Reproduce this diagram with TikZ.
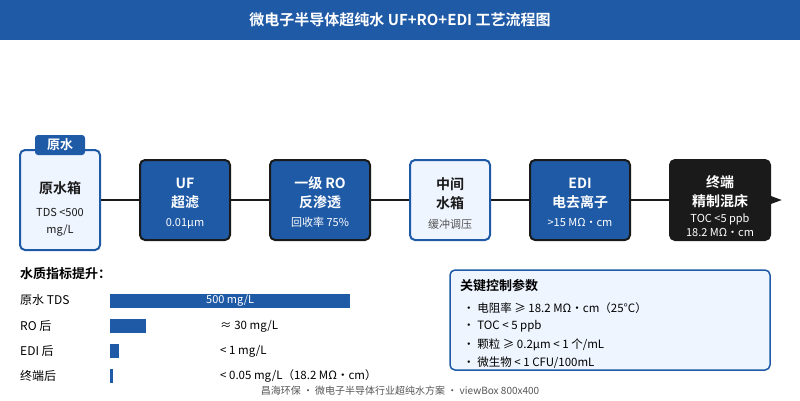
\documentclass[tikz,border=0pt]{standalone}
\usepackage{fontspec}
\setmainfont{Noto Sans CJK SC}[BoldFont={Noto Sans CJK SC Bold}]
\usetikzlibrary{arrows.meta}

\definecolor{mainblue}{HTML}{1F5AA6}
\definecolor{paleblue}{HTML}{EEF5FE}
\definecolor{inkdark}{HTML}{1A1A1A}
\definecolor{notegray}{HTML}{555555}

\begin{document}
\begin{tikzpicture}[x=1pt,y=-1pt]

    \useasboundingbox (0,0) rectangle (800,400);

    \tikzset{
        procbox/.style={draw=inkdark, fill=mainblue, line width=2pt, rounded corners=5pt,
            minimum width=90pt, minimum height=80pt, inner sep=0pt},
        tankbox/.style={procbox, draw=mainblue, fill=paleblue},
        boxtext/.style={align=center, inner sep=0pt, text=white,
            font=\fontsize{14}{19}\selectfont\bfseries},
        flow/.style={draw=inkdark, line width=2pt},
        rowlbl/.style={anchor=west, inner sep=0pt, font=\fontsize{12}{14}\selectfont},
        bar/.style={anchor=west, fill=mainblue, inner sep=0pt, minimum height=14pt},
        item/.style={anchor=west, inner sep=0pt, font=\fontsize{11.5}{14}\selectfont}
    }

    % title bar
    \fill[mainblue] (0,0) rectangle (800,40);
    \node[text=white, font=\fontsize{15}{18}\selectfont\bfseries] (title) at (400,20)
        {微电子半导体超纯水 UF+RO+EDI 工艺流程图};

    % process chain
    \node[tankbox, minimum width=80pt, minimum height=100pt] (raw) at (60,200) {};
    \node[boxtext, text=inkdark] (rawtxt) at ([yshift=-9pt]raw.center)
        {原水箱\\[4pt]{\fontsize{11}{17}\selectfont\mdseries TDS <500}\\[-2pt]{\fontsize{11}{17}\selectfont\mdseries mg/L}};
    \node[fill=mainblue, rounded corners=3pt, minimum width=50pt, minimum height=20pt, inner sep=0pt,
        text=white, font=\fontsize{13}{15}\selectfont\bfseries] (rawtag) at (60,145) {原水};

    \node[procbox] (uf) at (185,200) {};
    \node[boxtext] (uftxt) at ([yshift=-3pt]uf.center)
        {UF\\超滤\\{\fontsize{11}{19}\selectfont\mdseries 0.01μm}};

    \node[procbox, minimum width=100pt] (ro) at (320,200) {};
    \node[boxtext] (rotxt) at ([yshift=-2pt]ro.center)
        {一级 RO\\反渗透\\{\fontsize{11}{19}\selectfont\mdseries 回收率 75\%}};

    \node[tankbox, minimum width=80pt] (mid) at (450,200) {};
    \node[boxtext, text=inkdark] (midtxt) at ([yshift=-3pt]mid.center)
        {中间\\水箱\\[1pt]{\fontsize{11}{19}\selectfont\mdseries\color{notegray}缓冲调压}};

    \node[procbox, minimum width=100pt] (edi) at (580,200) {};
    \node[boxtext] (editxt) at ([yshift=-2pt]edi.center)
        {EDI\\电去离子\\{\fontsize{11}{19}\selectfont\mdseries >15 MΩ・cm}};

    \node[procbox, minimum width=100pt, fill=inkdark] (mix) at (720,200) {};
    \node[boxtext] (mixtxt) at ([yshift=-6pt]mix.center)
        {终端\\精制混床\\[-3pt]{\fontsize{11}{19}\selectfont\mdseries TOC <5 ppb}\\[-5pt]{\fontsize{11}{19}\selectfont\mdseries 18.2 MΩ・cm}};
    \coordinate (outlet) at (782,200);

    \draw[flow] (raw.east) -- (uf.west);
    \draw[flow] (uf.east) -- (ro.west);
    \draw[flow] (ro.east) -- (mid.west);
    \draw[flow] (mid.east) -- (edi.west);
    \draw[flow] (edi.east) -- (mix.west);
    \draw[flow, -{Triangle[length=12pt,width=8pt]}] (mix.east) -- (outlet);

    % water quality bars
    \node[anchor=west, inner sep=0pt, font=\fontsize{13}{15}\selectfont\bfseries] (qhead) at (20,274) {水质指标提升：};

    \node[rowlbl] (lbl1) at (20,300) {原水 TDS};
    \node[bar, minimum width=240pt, text=white, font=\fontsize{11}{13}\selectfont] (bar1) at (110,300.5) {500 mg/L};

    \foreach \n/\lbl/\yy/\w/\val in {2/RO 后/326/36/{≈ 30 mg/L}, 3/EDI 后/351/9/{< 1 mg/L},
                                      4/终端后/376/3/{< 0.05 mg/L（18.2 MΩ・cm）}} {
        \node[rowlbl] (lbl\n) at (20,\yy) {\lbl};
        \node[bar, minimum width=\w pt] (bar\n) at (110,\yy) {};
        \node[rowlbl, font=\fontsize{11.5}{14}\selectfont] (val\n) at (220,\yy) {\val};
    }

    % key parameters
    \node[draw=mainblue, fill=paleblue, line width=1.5pt, rounded corners=5pt, minimum width=320pt,
        minimum height=100pt, inner sep=0pt] (params) at (610,320) {};
    \node[anchor=west, inner sep=0pt, font=\fontsize{13}{15}\selectfont\bfseries] (phead) at (460,285.5) {关键控制参数};
    \node[item] (p1) at (463,308.5) {・ 电阻率 ≥ 18.2 MΩ・cm（25°C）};
    \node[item] (p2) at (463,326.5) {・ TOC < 5 ppb};
    \node[item] (p3) at (463,345) {・ 颗粒 ≥ 0.2μm < 1 个/mL};
    \node[item] (p4) at (463,362.5) {・ 微生物 < 1 CFU/100mL};

    % footer
    \node[text=notegray, font=\fontsize{10}{12}\selectfont] (foot) at (400,391)
        {昌海环保 ・ 微电子半导体行业超纯水方案 ・ viewBox 800x400};

\end{tikzpicture}
\end{document}
